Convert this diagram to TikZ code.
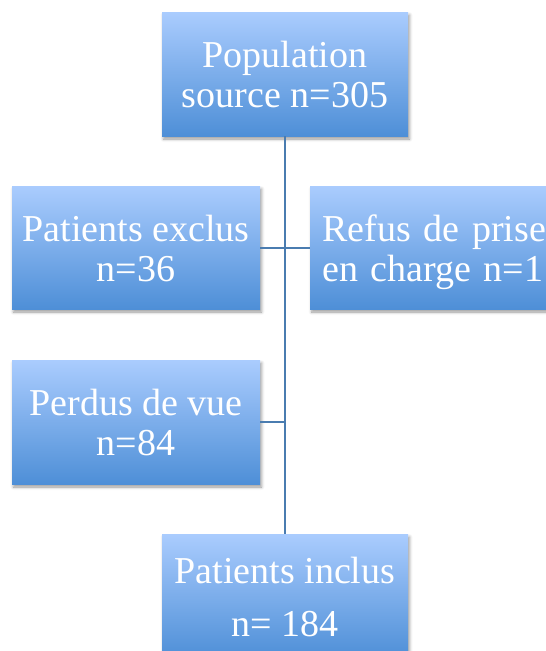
\documentclass[tikz,border=0pt]{standalone}
\usepackage{fontspec}
\setmainfont{Liberation Serif}
\usetikzlibrary{shadows.blur}
\definecolor{topc}{HTML}{AACCFE}
\definecolor{botc}{HTML}{4E8FD7}
\definecolor{linec}{HTML}{4A7CB0}
\newcommand\hstrut{\rule{0pt}{28pt}}
\begin{document}
\begin{tikzpicture}[x=1pt,y=-1pt,
  box/.style={rectangle, inner sep=0pt, top color=topc, bottom color=botc, draw=none,
    text=white, align=center, font=\fontsize{38}{40}\selectfont,
    blur shadow={shadow xshift=1.5pt, shadow yshift=-3pt, shadow blur radius=3pt, shadow opacity=40}},
  conn/.style={draw=linec, line width=2pt}]
\useasboundingbox (0,0) rectangle (546,651);
\clip (0,0) rectangle (546,651);
\node[box, minimum width=246pt, minimum height=124pt] (pop) at (285,74) {\hstrut Population\\source n=305};
\node[box, minimum width=248pt, minimum height=123pt] (excl) at (136,247.5) {\hstrut Patients exclus\\n=36};
\node[box, anchor=west, minimum height=123pt, inner xsep=12pt, text width=250pt, align=left] (refus) at (310,247.5) {\hstrut Refus de prise\\\raisebox{0pt}[\height][0pt]{en charge n=1}};
\node[box, minimum width=248pt, minimum height=124pt] (perdus) at (136,422) {\hstrut Perdus de vue\\n=84};
\node[box, minimum width=246pt, minimum height=124pt] (inclus) at (285,596) {\hstrut Patients inclus\\[13pt]n= 184};
\draw[conn] (pop.south) -- (inclus.north);
\draw[conn] (excl.east) -- (refus.west);
\draw[conn] (perdus.east) -- (perdus.east -| pop.south);
\end{tikzpicture}
\end{document}
